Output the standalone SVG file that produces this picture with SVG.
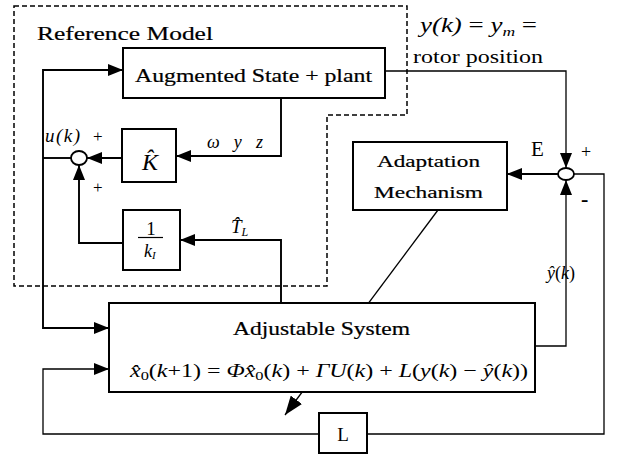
<svg xmlns="http://www.w3.org/2000/svg" width="617" height="455" viewBox="0 0 617 455">
<style>
text{font-family:"Liberation Serif","DejaVu Serif","Times New Roman",serif;fill:#000}
.lb{stroke:#000;stroke-width:0.2}
.box{fill:#fff;stroke:#000;stroke-width:2}
.w{fill:none;stroke:#000;stroke-width:1.9}
.t{fill:none;stroke:#000;stroke-width:1.3}
.it{font-style:italic}
.dash{fill:none;stroke:#000;stroke-width:1.5;stroke-dasharray:5 3}
</style>
<defs>
<marker id="ah" markerUnits="userSpaceOnUse" markerWidth="16" markerHeight="12" refX="15" refY="6" orient="auto"><path d="M0,0 L15,6 L0,12 z" fill="#000"/></marker>
<marker id="ah2" markerUnits="userSpaceOnUse" markerWidth="20" markerHeight="14" refX="19" refY="7" orient="auto"><path d="M0,0 L19,7 L0,14 z" fill="#000"/></marker>
</defs>
<rect width="617" height="455" fill="#fff"/>
<g id="reference-model-boundary">
<path class="dash" d="M14 6 H407 V115 H327 V286 H14 Z"/>
<text class="lb" x="37" y="40" font-size="19" textLength="176" lengthAdjust="spacingAndGlyphs">Reference Model</text>
</g>
<g id="connectors">
<path class="w" d="M71 158 H43"/>
<path class="w" d="M43 158 V70 H123" marker-end="url(#ah)"/>
<path class="w" d="M43 158 V328 H109" marker-end="url(#ah)"/>
<path class="w" d="M281 98 V156 H176" marker-end="url(#ah)"/>
<path class="w" d="M122 158 H87" marker-end="url(#ah)"/>
<path class="w" d="M123 243 H79 V165" marker-end="url(#ah)"/>
<path class="w" d="M281 303 V240 H180" marker-end="url(#ah)"/>
<path class="t" d="M385 71 H566 V168" marker-end="url(#ah)"/>
<path class="t" d="M535 346 H566 V180" marker-end="url(#ah)"/>
<path class="w" d="M558 174 H507" marker-end="url(#ah)"/>
<path class="t" d="M574 174 H604 V434 H367"/>
<path class="t" d="M319 434 H43 V369 H109" marker-end="url(#ah)"/>
<path class="t" d="M438 210 L285 415" marker-end="url(#ah2)"/>
</g>
<g id="sum1">
<ellipse cx="79" cy="158" rx="8" ry="7" fill="#fff" stroke="#000" stroke-width="1.8"/>
<text x="45" y="142" font-size="19" class="it" textLength="35" lengthAdjust="spacing">u(k)</text>
<text x="93" y="142" font-size="17">+</text>
<text x="93" y="193" font-size="17">+</text>
</g>
<g id="sum2">
<ellipse cx="566" cy="174" rx="8" ry="6" fill="#fff" stroke="#000" stroke-width="1.8"/>
<text x="531" y="156" font-size="21">E</text>
<text x="581" y="158" font-size="18">+</text>
<text x="581" y="206" font-size="22" font-weight="bold">-</text>
</g>
<g id="augmented">
<rect class="box" x="123" y="48" width="262" height="50"/>
<text class="lb" x="135" y="82" font-size="18" textLength="237" lengthAdjust="spacingAndGlyphs">Augmented State + plant</text>
<text x="207" y="148" font-size="18" class="it" textLength="56" lengthAdjust="spacing">ω y z</text>
</g>
<g id="K">
<rect class="box" x="122" y="129" width="54" height="53"/>
<text x="150" y="170" font-size="24" class="it" text-anchor="middle">K̂</text>
</g>
<g id="inv-kI">
<rect class="box" x="123" y="210" width="57" height="60"/>
<text x="151" y="235" font-size="19" text-anchor="middle">1</text>
<path d="M138 237.5 H163" stroke="#000" stroke-width="1.2"/>
<text x="144" y="257" font-size="18" class="it">k<tspan font-size="11" dy="2">I</tspan></text>
<text x="231" y="233" font-size="19" class="it">T̂<tspan font-size="12" dy="3">L</tspan></text>
</g>
<g id="output-label">
<text x="420" y="32" font-size="20" class="it" textLength="117" lengthAdjust="spacingAndGlyphs">y(k)<tspan font-style="normal"> = </tspan>y<tspan font-size="13" dy="4">m</tspan><tspan font-style="normal" dy="-4"> =</tspan></text>
<text x="413" y="63" font-size="18" textLength="130" lengthAdjust="spacingAndGlyphs">rotor position</text>
</g>
<g id="adaptation">
<rect class="box" x="353" y="142" width="154" height="68"/>
<text class="lb" x="377" y="167" font-size="17" textLength="103" lengthAdjust="spacingAndGlyphs">Adaptation</text>
<text class="lb" x="374" y="198" font-size="17" textLength="109" lengthAdjust="spacingAndGlyphs">Mechanism</text>
</g>
<g id="adjustable">
<rect class="box" x="109" y="303" width="426" height="89"/>
<text class="lb" x="233" y="335" font-size="18" textLength="177" lengthAdjust="spacingAndGlyphs">Adjustable System</text>
<text x="130" y="377" font-size="19" class="it" textLength="398" lengthAdjust="spacingAndGlyphs">x̂<tspan font-size="13" dy="3" font-style="normal">0</tspan><tspan dy="-3" font-style="normal">(</tspan>k<tspan font-style="normal">+1) = </tspan>Φx̂<tspan font-size="13" dy="3" font-style="normal">0</tspan><tspan dy="-3" font-style="normal">(</tspan>k<tspan font-style="normal">) + </tspan>ΓU<tspan font-style="normal">(</tspan>k<tspan font-style="normal">) + </tspan>L<tspan font-style="normal">(</tspan>y<tspan font-style="normal">(</tspan>k<tspan font-style="normal">) − </tspan>ŷ<tspan font-style="normal">(</tspan>k<tspan font-style="normal">))</tspan></text>
<text x="547" y="279" font-size="18" class="it">ŷ<tspan font-style="normal">(</tspan>k<tspan font-style="normal">)</tspan></text>
</g>
<g id="L">
<rect class="box" x="319" y="413" width="48" height="40"/>
<text x="343" y="441" font-size="19" text-anchor="middle">L</text>
</g>
</svg>
